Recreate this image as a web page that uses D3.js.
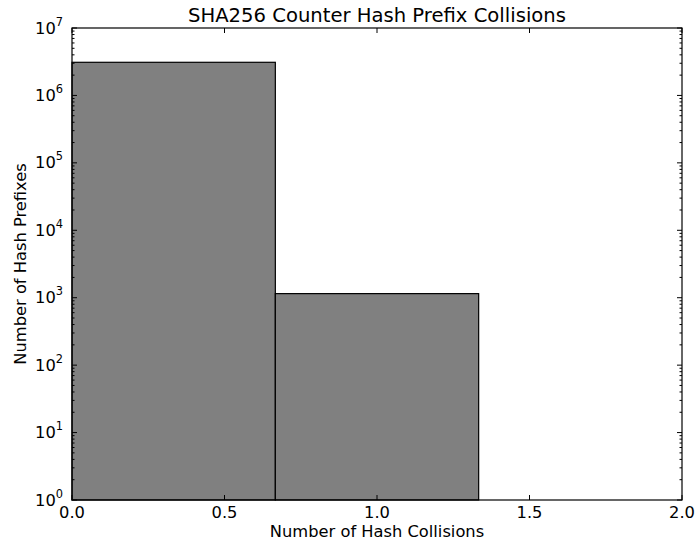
<!DOCTYPE html>
<html>
<head>
<meta charset="utf-8">
<script src="https://cdn.jsdelivr.net/npm/d3@7"></script>
<style>
  html, body { margin: 0; padding: 0; background: #fff; }
  svg { display: block; font-family: "DejaVu Sans", sans-serif; }
</style>
</head>
<body>
<svg id="chart" width="696" height="547"></svg>
<script>
// Histogram bins: edges and counts per bin
const binEdges = [0, 2 / 3, 4 / 3, 2];
const binCounts = [3100000, 1150, 1];
const xTicks = [0, 0.5, 1.0, 1.5, 2.0];
const yExponents = [0, 1, 2, 3, 4, 5, 6, 7];

const W = 696, H = 547;
const margin = { left: 72, right: 14, top: 28, bottom: 47 };
const svg = d3.select("#chart");

const x = d3.scaleLinear().domain([0, 2]).range([margin.left, W - margin.right]);
const y = d3.scaleLog().domain([1, 1e7]).range([H - margin.bottom, margin.top]);

const bins = binCounts.map((c, i) => ({ x0: binEdges[i], x1: binEdges[i + 1], count: c }));

// Bars
svg.append("g").selectAll("rect").data(bins).join("rect")
  .attr("x", d => x(d.x0))
  .attr("width", d => x(d.x1) - x(d.x0))
  .attr("y", d => y(d.count))
  .attr("height", d => y(1) - y(d.count))
  .attr("fill", "#808080")
  .attr("stroke", "#000")
  .attr("stroke-width", 1.2);

const x0 = x.range()[0], x1 = x.range()[1];
const yTop = y.range()[1], yBot = y.range()[0];

// Ticks (inside, on all four sides)
const tickG = svg.append("g").attr("stroke", "#000").attr("stroke-width", 1);
xTicks.forEach(t => {
  tickG.append("line").attr("x1", x(t)).attr("x2", x(t)).attr("y1", yBot).attr("y2", yBot - 5);
  tickG.append("line").attr("x1", x(t)).attr("x2", x(t)).attr("y1", yTop).attr("y2", yTop + 5);
});
yExponents.forEach(e => {
  const v = Math.pow(10, e);
  tickG.append("line").attr("x1", x0).attr("x2", x0 + 5).attr("y1", y(v)).attr("y2", y(v));
  tickG.append("line").attr("x1", x1).attr("x2", x1 - 5).attr("y1", y(v)).attr("y2", y(v));
  if (e < 7) {
    for (let m = 2; m <= 9; m++) {
      const mv = m * v;
      tickG.append("line").attr("x1", x0).attr("x2", x0 + 2.5).attr("y1", y(mv)).attr("y2", y(mv));
      tickG.append("line").attr("x1", x1).attr("x2", x1 - 2.5).attr("y1", y(mv)).attr("y2", y(mv));
    }
  }
});

// Frame
svg.append("rect")
  .attr("x", x0).attr("y", yTop)
  .attr("width", x1 - x0).attr("height", yBot - yTop)
  .attr("fill", "none").attr("stroke", "#000").attr("stroke-width", 1.2);

// X tick labels
svg.append("g").selectAll("text").data(xTicks).join("text")
  .attr("x", d => x(d)).attr("y", yBot + 18)
  .attr("text-anchor", "middle")
  .attr("font-size", 16.3)
  .attr("fill", "#000")
  .text(d => d.toFixed(1));

// Y tick labels: 10 with superscript exponent
const yl = svg.append("g");
yExponents.forEach(e => {
  const t = yl.append("text")
    .attr("x", x0 - 9).attr("y", y(Math.pow(10, e)) + 5.5)
    .attr("text-anchor", "end")
    .attr("font-size", 16.3)
    .attr("fill", "#000");
  t.append("tspan").text("10");
  t.append("tspan").attr("dy", -8).attr("font-size", 11.4).text(e);
});

// Axis titles
svg.append("text")
  .attr("x", (x0 + x1) / 2).attr("y", 537)
  .attr("text-anchor", "middle").attr("font-size", 16.3).attr("fill", "#000")
  .text("Number of Hash Collisions");
svg.append("text")
  .attr("transform", `translate(26,${(yTop + yBot) / 2}) rotate(-90)`)
  .attr("text-anchor", "middle").attr("font-size", 16.3).attr("fill", "#000")
  .text("Number of Hash Prefixes");
svg.append("text")
  .attr("x", (x0 + x1) / 2).attr("y", 22)
  .attr("text-anchor", "middle").attr("font-size", 19.6).attr("fill", "#000")
  .text("SHA256 Counter Hash Prefix Collisions");
</script>
</body>
</html>
